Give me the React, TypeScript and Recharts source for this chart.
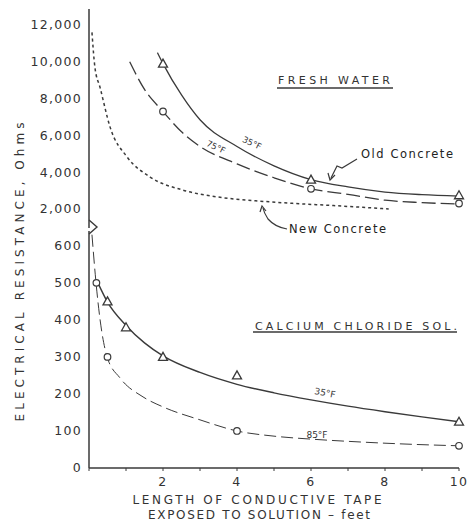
import React from "react";
import { ComposedChart, Line, Scatter, XAxis, YAxis } from "recharts";

// x values are feet of tape, y values are ohms

// fresh water
const oldColdX = [1.85, 2, 2.5, 3, 4, 5, 6, 7, 8, 9, 10];
const oldColdY = [10500, 9900, 8200, 6850, 5400, 4350, 3600, 3200, 2920, 2780, 2700];
const oldWarmX = [1.1, 1.5, 2, 2.5, 3, 4, 5, 6, 7, 8, 9, 10];
const oldWarmY = [10000, 8500, 7300, 6200, 5400, 4450, 3700, 3100, 2800, 2480, 2350, 2270];
const newConcX = [0.08, 0.16, 0.3, 0.57, 1.03, 1.65, 2.54, 3.5, 4.5, 5.5, 6.5, 7.5, 8.1];
const newConcY = [11600, 9700, 8600, 6450, 4830, 3740, 3030, 2650, 2450, 2310, 2200, 2080, 2000];
const freshTriX = [2, 6, 10];
const freshTriY = [9900, 3600, 2750];
const freshCircX = [2, 6, 10];
const freshCircY = [7300, 3100, 2300];

// calcium chloride
const calcColdX = [0.24, 0.5, 1, 1.5, 2, 3, 4, 5, 6, 7, 8, 9, 10];
const calcColdY = [500, 448, 385, 338, 303, 258, 226, 203, 184, 167, 152, 138, 125];
const calcWarmX = [0.08, 0.19, 0.3, 0.49, 0.84, 1.46, 2, 3, 4, 5, 6, 7, 8, 9, 10];
const calcWarmY = [630, 500, 400, 300, 243, 192, 165, 130, 100, 86, 78, 72, 67, 63, 60];
const calcTriX = [0.5, 1, 2, 4, 10];
const calcTriY = [450, 380, 300, 250, 125];
const calcCircX = [0.2, 0.5, 4, 10];
const calcCircY = [500, 300, 100, 60];

const freshTicks = [2000, 4000, 6000, 8000, 10000, 12000];
const calcTicks = [0, 100, 200, 300, 400, 500, 600];
const feetTicks = [0, 1, 2, 3, 4, 5, 6, 7, 8, 9, 10];

const pts = (xs: number[], ys: number[]) => xs.map((x, i) => ({ x, v: ys[i] }));

const INK = "#3a3a3a";
const FONT = "DejaVu Sans";
const tickStyle = { fontSize: 12.5, fill: "#333", fontFamily: FONT, letterSpacing: 1.3 };

const Tri = (p: any) => (
  <polygon
    points={`${p.cx},${p.cy - 4.5} ${p.cx - 4.5},${p.cy + 3.5} ${p.cx + 4.5},${p.cy + 3.5}`}
    fill="#fff"
    stroke={INK}
    strokeWidth={1.3}
  />
);
const Circ = (p: any) => <circle cx={p.cx} cy={p.cy} r={3.3} fill="#fff" stroke={INK} strokeWidth={1.2} />;

const App: React.FC = () => {
  return (
    <div style={{ position: "absolute", left: 0, top: 0, width: 475, height: 525, background: "#fff" }}>
      <div style={{ position: "absolute", left: 0, top: 0 }}>
        <ComposedChart width={475} height={228} margin={{ top: 9, right: 16, bottom: 0, left: 0 }}>
          <XAxis type="number" dataKey="x" domain={[0, 10]} hide />
          <YAxis
            type="number"
            dataKey="v"
            domain={[970, 12870]}
            allowDataOverflow
            ticks={freshTicks}
            tickFormatter={(v: number) => v.toLocaleString("en-US")}
            width={89}
            tickLine={false}
            tickSize={6}
            tickMargin={1}
            axisLine={{ stroke: INK, strokeWidth: 1.5 }}
            tick={tickStyle}
          />
          <Line data={pts(newConcX, newConcY)} dataKey="v" type="monotone" stroke={INK} strokeWidth={1.5}
            strokeDasharray="3 3" dot={false} isAnimationActive={false} />
          <Line data={pts(oldColdX, oldColdY)} dataKey="v" type="monotone" stroke={INK} strokeWidth={1.3}
            dot={false} isAnimationActive={false} />
          <Line data={pts(oldWarmX, oldWarmY)} dataKey="v" type="monotone" stroke={INK} strokeWidth={1.3}
            strokeDasharray="14 5" dot={false} isAnimationActive={false} />
          <Scatter data={pts(freshTriX, freshTriY)} dataKey="v" shape={Tri} isAnimationActive={false} />
          <Scatter data={pts(freshCircX, freshCircY)} dataKey="v" shape={Circ} isAnimationActive={false} />
        </ComposedChart>
      </div>
      <div style={{ position: "absolute", left: 0, top: 231 }}>
        <ComposedChart width={475} height={267} margin={{ top: 0, right: 16, bottom: 0, left: 0 }}>
          <XAxis
            type="number"
            dataKey="x"
            domain={[0, 10]}
            ticks={feetTicks}
            tickFormatter={(v: number) => (v > 0 && v % 2 === 0 ? String(v) : "")}
            height={30}
            tickSize={3}
            tickMargin={6}
            tickLine={{ stroke: INK }}
            axisLine={{ stroke: INK, strokeWidth: 1.5 }}
            tick={tickStyle}
          />
          <YAxis
            type="number"
            dataKey="v"
            domain={[0, 640]}
            allowDataOverflow
            ticks={calcTicks}
            width={89}
            tickLine={false}
            tickSize={6}
            tickMargin={1}
            axisLine={{ stroke: INK, strokeWidth: 1.5 }}
            tick={tickStyle}
          />
          <Line data={pts(calcColdX, calcColdY)} dataKey="v" type="monotone" stroke={INK} strokeWidth={1.4}
            dot={false} isAnimationActive={false} />
          <Line data={pts(calcWarmX, calcWarmY)} dataKey="v" type="monotone" stroke={INK} strokeWidth={1}
            strokeDasharray="12 5" dot={false} isAnimationActive={false} />
          <Scatter data={pts(calcTriX, calcTriY)} dataKey="v" shape={Tri} isAnimationActive={false} />
          <Scatter data={pts(calcCircX, calcCircY)} dataKey="v" shape={Circ} isAnimationActive={false} />
        </ComposedChart>
      </div>
      <svg width={475} height={525} style={{ position: "absolute", left: 0, top: 0, pointerEvents: "none" }}
        fontFamily={FONT} fill="#333">
        {/* axis break */}
        <path d="M89 220 L97 227 L89 234" fill="none" stroke={INK} strokeWidth={1.4} />

        <text x={20} y={272} transform="rotate(-90 20 272)" textAnchor="middle" dominantBaseline="central"
          fontSize={12} textLength={299} lengthAdjust="spacing">ELECTRICAL  RESISTANCE,  Ohms</text>

        <text x={257} y={500} textAnchor="middle" dominantBaseline="central" fontSize={12}
          textLength={249} lengthAdjust="spacing">LENGTH OF CONDUCTIVE TAPE</text>
        <text x={259} y={515} textAnchor="middle" dominantBaseline="central" fontSize={12}
          textLength={222} lengthAdjust="spacing">EXPOSED TO SOLUTION – feet</text>

        <text x={278} y={80} dominantBaseline="central" fontSize={11} textLength={112}
          lengthAdjust="spacing">FRESH WATER</text>
        <line x1={277} y1={88} x2={393} y2={88} stroke={INK} strokeWidth={1.5} />

        <text x={361} y={154} dominantBaseline="central" fontSize={11.5} fill="#222" textLength={92}
          lengthAdjust="spacing">Old Concrete</text>
        <path d="M357 159 L342 168 L337 166 L331 178" fill="none" stroke={INK} strokeWidth={1.2} />
        <path d="M328 173 L330 180 L335 175" fill="none" stroke={INK} strokeWidth={1.2} />

        <text x={289} y={229} dominantBaseline="central" fontSize={11.5} fill="#222" textLength={97}
          lengthAdjust="spacing">New Concrete</text>
        <path d="M287 229 Q275 227 268 219 Q264 213 263 208" fill="none" stroke={INK} strokeWidth={1.2} />
        <path d="M260 212 L262 206 L266 211" fill="none" stroke={INK} strokeWidth={1.2} />

        <text x={252} y={143} transform="rotate(25 252 143)" textAnchor="middle" dominantBaseline="central"
          fontSize={8.5}>35°F</text>
        <text x={216} y={147} transform="rotate(25 216 147)" textAnchor="middle" dominantBaseline="central"
          fontSize={8.5}>75°F</text>

        <text x={255} y={326} dominantBaseline="central" fontSize={11} textLength={202}
          lengthAdjust="spacing">CALCIUM CHLORIDE SOL.</text>
        <line x1={253} y1={332} x2={457} y2={332} stroke={INK} strokeWidth={1.5} />

        <text x={325} y={393} transform="rotate(10 325 393)" textAnchor="middle" dominantBaseline="central"
          fontSize={9}>35°F</text>
        <text x={317} y={435} textAnchor="middle" dominantBaseline="central" fontSize={9}>85°F</text>
      </svg>
    </div>
  );
};

export default App;
